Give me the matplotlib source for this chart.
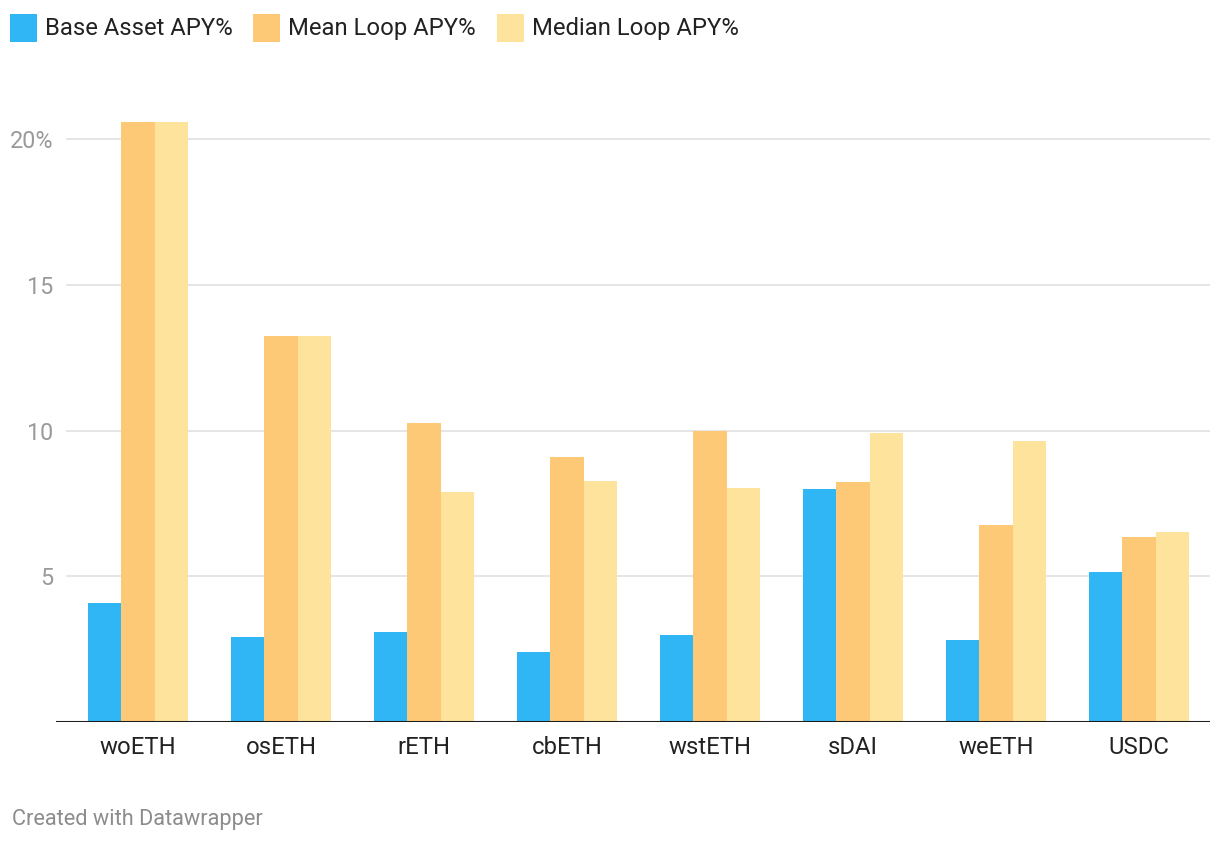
import matplotlib
matplotlib.use("Agg")
import matplotlib.pyplot as plt
import numpy as np
from matplotlib.patches import Rectangle

plt.rcParams['font.family'] = ['Roboto', 'DejaVu Sans']

categories = ["woETH", "osETH", "rETH", "cbETH", "wstETH", "sDAI", "weETH", "USDC"]
base_apy = [4.08, 2.92, 3.09, 2.40, 2.99, 8.00, 2.81, 5.15]
mean_loop = [20.59, 13.25, 10.26, 9.09, 9.99, 8.24, 6.76, 6.35]
median_loop = [20.59, 13.25, 7.89, 8.27, 8.03, 9.92, 9.64, 6.52]
series_names = ["Base Asset APY%", "Mean Loop APY%", "Median Loop APY%"]
colors = ["#31b6f5", "#fdc976", "#fee39c"]
yticks = [5, 10, 15, 20]
ytick_labels = ["5", "10", "15", "20%"]

W, H = 1220, 844
fig = plt.figure(figsize=(W / 100, H / 100), dpi=100)
ax_left, ax_right = 56, 1210
ax_bottom, ax_top = 722, 110
ax = fig.add_axes([ax_left / W, 1 - ax_bottom / H, (ax_right - ax_left) / W, (ax_bottom - ax_top) / H])

x = np.arange(len(categories))
bw = 0.7 / 3
for i, (vals, c) in enumerate(zip([base_apy, mean_loop, median_loop], colors)):
    ax.bar(x + (i - 1) * bw, vals, width=bw, color=c, edgecolor='none', zorder=2)

ax.set_xlim(-0.573, 7.497)
ax.set_ylim(0, 21)

gx0 = (67 - ax_left) / (ax_right - ax_left)
for t in yticks:
    ax.axhline(t, xmin=gx0, xmax=1, color="#e3e3e3", lw=1.3, zorder=1)
ax.axhline(0, color="#1d1d1d", lw=2.2, zorder=3)

for s in ax.spines.values():
    s.set_visible(False)

ax.set_yticks(yticks)
ax.set_yticklabels(ytick_labels, fontsize=16.8, color="#9a9a9a")
ax.tick_params(axis='y', length=0, pad=2)
ax.set_xticks(x)
ax.set_xticklabels(categories, fontsize=17.2, color="#222222")
ax.tick_params(axis='x', length=0, pad=10)

# legend
leg_items = [(10, series_names[0]), (253, series_names[1]), (497, series_names[2])]
for (lx, name), c in zip(leg_items, colors):
    fig.patches.append(Rectangle((lx / W, 1 - 42 / H), 27 / W, 28 / H, transform=fig.transFigure,
                                 facecolor=c, edgecolor='none'))
    fig.text((lx + 35) / W, 1 - 28.5 / H, name, fontsize=17.2, color="#222222", va='center', ha='left')

fig.text(12 / W, 1 - 820 / H, "Created with Datawrapper", fontsize=15.7, color="#8c8c8c",
         va='center', ha='left')

fig.savefig("out.png", dpi=100, facecolor="white")
